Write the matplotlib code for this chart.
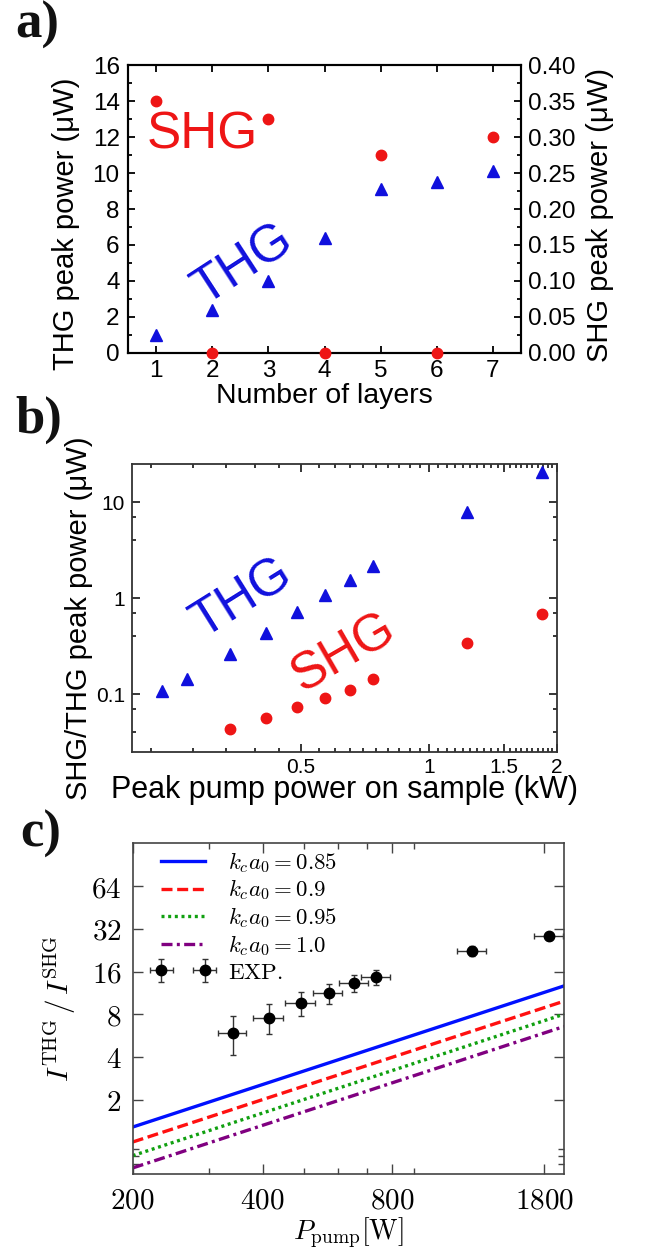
import numpy as np
import matplotlib.pyplot as plt
from matplotlib.ticker import FixedLocator, NullFormatter, FuncFormatter

plt.rcParams['font.family'] = ['Liberation Sans', 'DejaVu Sans']
plt.rcParams['mathtext.fontset'] = 'cm'

W, H = 646, 1255
red = '#ee1515'
blue = '#1010dd'

# panel a: vs number of layers
layers = [1, 2, 3, 4, 5, 6, 7]
thg_layers = [1.0, 2.4, 4.0, 6.4, 9.1, 9.5, 10.1]          # uW
shg_layers = [0.35, 0.0, 0.325, 0.0, 0.275, 0.0, 0.30]      # uW

# panel b: vs pump power (kW)
thg_power = [0.235, 0.269, 0.340, 0.413, 0.490, 0.570, 0.653, 0.738, 1.225, 1.845]
thg_peak = [0.108, 0.145, 0.260, 0.433, 0.715, 1.07, 1.53, 2.17, 7.83, 20.4]
shg_power = [0.340, 0.413, 0.490, 0.570, 0.653, 0.738, 1.225, 1.845]
shg_peak = [0.0432, 0.0561, 0.0731, 0.0913, 0.1116, 0.144, 0.340, 0.689]

# panel c: THG/SHG ratio vs pump power (W)
pump_w = [341, 413, 490, 569, 653, 735, 1224, 1843]
pump_err = [26, 32, 38, 44, 50, 57, 94, 142]
ratio = [5.95, 7.58, 9.62, 11.26, 13.24, 14.66, 22.3, 28.3]
ratio_err = [1.8, 1.8, 1.8, 1.8, 1.8, 1.8, 1.8, 1.8]
line_p = [200, 2000]
kc_labels = ['0.85', '0.9', '0.95', '1.0']
kc_lines = [[1.285, 12.67], [1.008, 9.89], [0.808, 8.01], [0.662, 6.56]]


def px_axes(x0, y0, x1, y1):
    return [x0 / W, 1 - y1 / H, (x1 - x0) / W, (y1 - y0) / H]


fig = plt.figure(figsize=(W / 100, H / 100), dpi=100)

for lab, x, yb in [('a)', 15, 38), ('b)', 15, 433), ('c)', 20, 847)]:
    fig.text(x / W, 1 - yb / H, lab, fontsize=38, fontweight='bold',
             family='Liberation Serif', va='baseline', ha='left', color='#111111')

# ---------------- a ----------------
ax1 = fig.add_axes(px_axes(128, 65, 521, 353))
ax1r = ax1.twinx()
ax1.plot(layers, thg_layers, '^', color=blue, ms=8.5, ls='none', clip_on=False, zorder=5)
ax1r.plot(layers, shg_layers, 'o', color=red, ms=7.5, ls='none', clip_on=False, zorder=5)
ax1.set_xlim(0.5, 7.5)
ax1.set_ylim(0, 16)
ax1r.set_ylim(0, 0.4)
ax1.set_xticks(layers)
ax1.set_yticks(np.arange(0, 17, 2))
ax1.yaxis.set_minor_locator(FixedLocator(np.arange(1, 16, 2)))
ax1r.set_yticks(np.arange(0, 0.41, 0.05))
ax1r.yaxis.set_minor_locator(FixedLocator(np.arange(0.025, 0.4, 0.05)))
ax1r.yaxis.set_major_formatter(FuncFormatter(lambda v, p: '%.2f' % v))
ax1.tick_params(axis='x', which='both', direction='in', top=True, labelsize=17.5,
                length=5, width=1.3, pad=5)
ax1.tick_params(axis='y', which='both', direction='in', right=False, labelsize=17.5,
                width=1.3, pad=6)
ax1.tick_params(axis='y', which='major', length=5)
ax1.tick_params(axis='y', which='minor', length=3)
ax1r.tick_params(axis='y', which='both', direction='in', labelsize=17.5, width=1.3, pad=5)
ax1r.tick_params(axis='y', which='major', length=5)
ax1r.tick_params(axis='y', which='minor', length=3)
for a in (ax1, ax1r):
    for s in a.spines.values():
        s.set_linewidth(1.5)
ax1.set_xlabel('Number of layers', fontsize=20.5)
ax1.xaxis.set_label_coords(0.5, -0.105)
ax1.set_ylabel('THG peak power (μW)', fontsize=21)
ax1.yaxis.set_label_coords(-0.122, 0.45)
ax1r.set_ylabel('SHG peak power (μW)', fontsize=21)
ax1r.yaxis.set_label_coords(1.165, 0.479)
ax1.text(1.82, 12.1, 'SHG', color=red, fontsize=37, ha='center', va='center')
ax1.text(2.56, 4.9, 'THG', color=blue, fontsize=37, ha='center', va='center',
         rotation=33, rotation_mode='anchor')

# ---------------- b ----------------
ax2 = fig.add_axes(px_axes(132, 464, 557, 752))
ax2.plot(thg_power, thg_peak, '^', color=blue, ms=8, ls='none')
ax2.plot(shg_power, shg_peak, 'o', color=red, ms=7.5, ls='none')
ax2.set_xscale('log')
ax2.set_yscale('log')
ax2.set_xlim(0.2, 2.0)
ax2.set_ylim(0.025, 25)
ax2.set_xticks([0.5, 1, 1.5, 2], labels=['0.5', '1', '1.5', '2'])
xminor = list(0.5 - np.arange(1, 6) * 0.0556) + list(np.arange(0.55, 0.99, 0.05)) \
    + list(np.arange(1.05, 1.49, 0.05)) + list(np.arange(1.55, 1.99, 0.05))
ax2.xaxis.set_minor_locator(FixedLocator(xminor))
ax2.xaxis.set_minor_formatter(NullFormatter())
ax2.set_yticks([0.1, 1, 10], labels=['0.1', '1', '10'])
ax2.yaxis.set_minor_locator(FixedLocator([0.04, 0.07, 0.4, 0.7, 4, 7]))
ax2.yaxis.set_minor_formatter(NullFormatter())
ax2.tick_params(which='both', direction='in', top=True, right=True, labelsize=15, width=1.1)
ax2.tick_params(axis='x', which='both', pad=4)
ax2.tick_params(axis='y', which='both', pad=5)
ax2.tick_params(which='major', length=6)
ax2.tick_params(which='minor', length=3)
for s in ax2.spines.values():
    s.set_linewidth(1.3)
    s.set_color('#333333')
ax2.set_xlabel('Peak pump power on sample (kW)', fontsize=22)
ax2.xaxis.set_label_coords(0.5, -0.08)
ax2.set_ylabel('SHG/THG peak power (μW)', fontsize=21)
ax2.yaxis.set_label_coords(-0.092, 0.465)
ax2.text(0.364, 1.0, 'THG', color=blue, fontsize=37, ha='center', va='center',
         rotation=32, rotation_mode='anchor')
ax2.text(0.631, 0.269, 'SHG', color=red, fontsize=37, ha='center', va='center',
         rotation=30, rotation_mode='anchor')

# ---------------- c ----------------
ax3 = fig.add_axes(px_axes(132.7, 843.3, 564, 1174))
styles = [
    dict(color='#0010ff', ls='-'),
    dict(color='#ff1010', dashes=[3.3, 1.4]),
    dict(color='#10a010', dashes=[0.9, 1.1]),
    dict(color='#800080', dashes=[3.3, 1.3, 0.9, 1.3]),
]
for lab, vals, st in zip(kc_labels, kc_lines, styles):
    ax3.plot(line_p, vals, lw=2.4, label=r'$k_c a_0 = %s$' % lab, **st)
ax3.errorbar(pump_w, ratio, xerr=pump_err, yerr=ratio_err, fmt='o', color='black',
             ms=7.5, ecolor='#333333', elinewidth=1.0, capsize=2.5, capthick=1.0,
             label=r'$\mathrm{EXP.}$')
ax3.set_xscale('log', base=2)
ax3.set_yscale('log', base=2)
ax3.set_xlim(200, 2000)
ax3.set_ylim(0.6, 128)
ax3.xaxis.set_major_locator(FixedLocator([200, 400, 800, 1800]))
ax3.xaxis.set_minor_locator(FixedLocator([300, 500, 600, 700, 900]))
ax3.yaxis.set_major_locator(FixedLocator([2, 4, 8, 16, 32, 64]))
ax3.yaxis.set_minor_locator(FixedLocator([0.7, 0.8, 0.9]))
math_fmt = FuncFormatter(lambda v, p: r'$%d$' % round(v))
ax3.xaxis.set_major_formatter(math_fmt)
ax3.yaxis.set_major_formatter(math_fmt)
ax3.xaxis.set_minor_formatter(NullFormatter())
ax3.yaxis.set_minor_formatter(NullFormatter())
ax3.tick_params(which='both', direction='in', top=True, right=True, labelsize=21,
                width=1.0, color='#444444')
ax3.tick_params(axis='x', which='both', pad=9)
ax3.tick_params(axis='y', which='both', pad=8)
ax3.tick_params(which='major', length=7)
ax3.tick_params(which='minor', length=4)
for s in ax3.spines.values():
    s.set_linewidth(1.2)
    s.set_color('#444444')
ax3.set_xlabel(r'$P_{\mathrm{pump}}[\mathrm{W}]$', fontsize=20)
ax3.xaxis.set_label_coords(0.5, -0.125)
ax3.set_ylabel(r'$I^{\mathrm{THG}}\,/\,I^{\mathrm{SHG}}$', fontsize=21)
ax3.yaxis.set_label_coords(-0.127, 0.5)
ax3.legend(loc='upper left', bbox_to_anchor=(0.05, 0.98), frameon=False, fontsize=16.5,
           numpoints=2, handlelength=2.5, handletextpad=0.7, labelspacing=0.12,
           borderpad=0, borderaxespad=0)

fig.savefig('out.png', dpi=100)
